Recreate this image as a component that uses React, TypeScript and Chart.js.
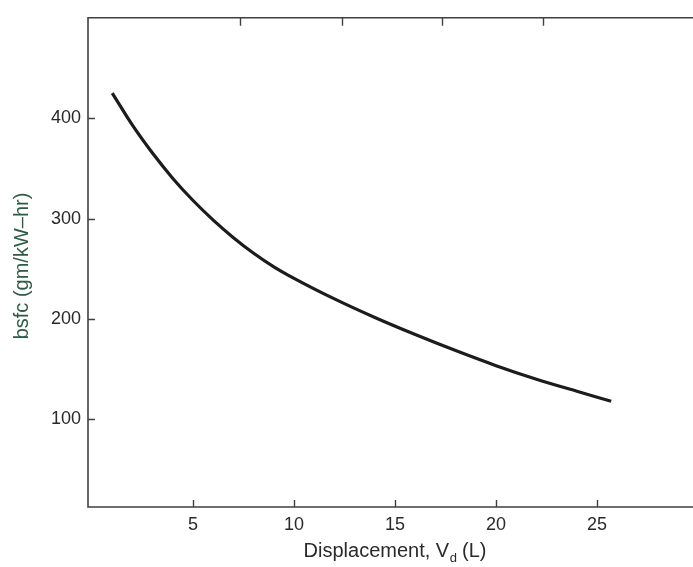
import React, { useEffect, useRef } from "react";
import { Chart, registerables } from "chart.js";

Chart.register(...registerables);

// Data
const displacement = [1.0, 2, 3, 4, 5, 6, 7, 8, 9, 10, 12, 14, 16, 18, 20, 22, 24, 25.7];
const bsfc = [425, 393, 365, 340, 318, 298.5, 281, 265.5, 252, 240.5, 220, 201.5, 184.5, 168.5, 153.5, 140, 128, 118];
const xTickValues = [5, 10, 15, 20, 25];
const yTickValues = [100, 200, 300, 400];
const topTickValues = [7.33, 12.38, 17.33, 22.33];

const xTitle = "Displacement, V";
const xTitleSub = "d";
const xTitleEnd = " (L)";
const yTitle = "bsfc (gm/kW\u2013hr)";

const FONT = "'Liberation Sans', Arial, Helvetica, sans-serif";

const framePlugin = {
  id: "frame",
  afterDraw(chart: any) {
    const { ctx, chartArea, scales } = chart;
    const xs = scales.x;
    const ys = scales.y;
    const { left, right, top, bottom } = chartArea;
    ctx.save();
    ctx.strokeStyle = "#404040";
    ctx.lineWidth = 1.6;
    ctx.beginPath();
    ctx.moveTo(right, top);
    ctx.lineTo(left, top);
    ctx.lineTo(left, bottom);
    ctx.lineTo(right, bottom);
    ctx.stroke();
    ctx.lineWidth = 1.4;
    ctx.beginPath();
    xTickValues.forEach((v) => {
      const px = Math.round(xs.getPixelForValue(v)) + 0.5;
      ctx.moveTo(px, bottom);
      ctx.lineTo(px, bottom - 7);
    });
    topTickValues.forEach((v) => {
      const px = Math.round(xs.getPixelForValue(v)) + 0.5;
      ctx.moveTo(px, top);
      ctx.lineTo(px, top + 8);
    });
    yTickValues.forEach((v) => {
      const py = Math.round(ys.getPixelForValue(v)) + 0.5;
      ctx.moveTo(left, py);
      ctx.lineTo(left + 7, py);
    });
    ctx.stroke();

    // x title with subscript
    ctx.fillStyle = "#2a2a2a";
    ctx.textBaseline = "alphabetic";
    ctx.textAlign = "left";
    const mainFont = `20px ${FONT}`;
    const subFont = `13px ${FONT}`;
    ctx.font = mainFont;
    const w1 = ctx.measureText(xTitle).width;
    const w3 = ctx.measureText(xTitleEnd).width;
    ctx.font = subFont;
    const w2 = ctx.measureText(xTitleSub).width;
    const total = w1 + w2 + w3;
    const x0 = 395 - total / 2;
    const base = 557;
    ctx.font = mainFont;
    ctx.fillText(xTitle, x0, base);
    ctx.font = subFont;
    ctx.fillText(xTitleSub, x0 + w1 + 0.5, base + 5);
    ctx.font = mainFont;
    ctx.fillText(xTitleEnd, x0 + w1 + w2, base);

    // y title
    ctx.save();
    ctx.translate(22, 266);
    ctx.rotate(-Math.PI / 2);
    ctx.textAlign = "center";
    ctx.textBaseline = "middle";
    ctx.fillStyle = "#2f5a46";
    ctx.font = `20px ${FONT}`;
    ctx.fillText(yTitle, 0, 0);
    ctx.restore();
    ctx.restore();
  },
};

export default function App() {
  const ref = useRef<HTMLCanvasElement | null>(null);
  useEffect(() => {
    if (!ref.current) return;
    const chart = new Chart(ref.current, {
      type: "line",
      data: {
        datasets: [
          {
            data: displacement.map((x, i) => ({ x, y: bsfc[i] })),
            borderColor: "#1c1c1c",
            borderWidth: 3.2,
            pointRadius: 0,
            cubicInterpolationMode: "monotone",
            fill: false,
          },
        ],
      },
      options: {
        animation: false,
        responsive: false,
        devicePixelRatio: 1,
        layout: { padding: { top: 10, right: 0, left: 0, bottom: 0 } },
        plugins: { legend: { display: false }, tooltip: { enabled: false } },
        scales: {
          x: {
            type: "linear",
            min: -0.2,
            max: 29.75,
            afterBuildTicks: (s: any) => {
              s.ticks = xTickValues.map((v) => ({ value: v }));
            },
            afterFit: (s: any) => {
              s.height = 60;
            },
            grid: { display: false, drawTicks: false },
            border: { display: false },
            ticks: {
              color: "#2a2a2a",
              font: { family: FONT, size: 18 },
              padding: 7,
              maxRotation: 0,
              autoSkip: false,
            },
          },
          y: {
            type: "linear",
            min: 12.7,
            max: 500,
            afterBuildTicks: (s: any) => {
              s.ticks = yTickValues.map((v) => ({ value: v }));
            },
            afterFit: (s: any) => {
              s.width = 88;
            },
            grid: { display: false, drawTicks: false },
            border: { display: false },
            ticks: {
              color: "#2a2a2a",
              font: { family: FONT, size: 18 },
              padding: 7,
              autoSkip: false,
            },
          },
        },
      },
      plugins: [framePlugin],
    });
    return () => chart.destroy();
  }, []);
  return (
    <div style={{ position: "absolute", left: 0, top: 0, width: 693, height: 567, background: "#ffffff" }}>
      <canvas ref={ref} width={693} height={567} style={{ width: 693, height: 567 }} />
    </div>
  );
}
